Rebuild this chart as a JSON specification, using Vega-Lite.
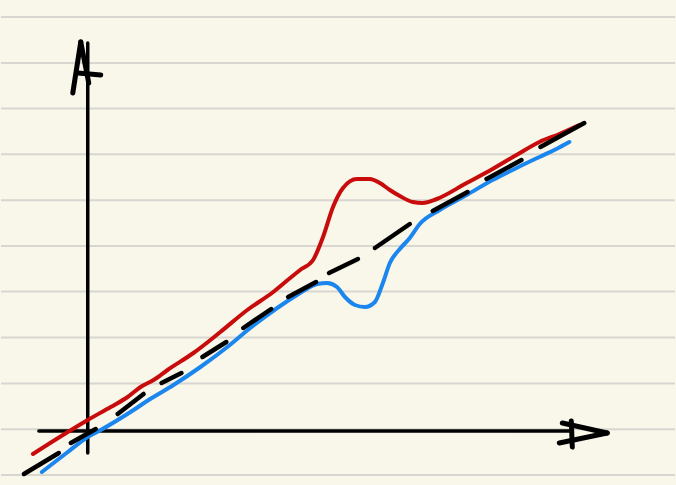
{
  "$schema": "https://vega.github.io/schema/vega-lite/v6.json",
  "width": 676,
  "height": 485,
  "autosize": {"type": "fit", "contains": "padding"},
  "padding": 0,
  "background": "#f9f6ea",
  "config": {"view": {"stroke": null}},
  "datasets": {
    "paper": [{"y": 414}, {"y": 368}, {"y": 322.5}, {"y": 276.7}, {"y": 230.7}, {"y": 185}, {"y": 139.5}, {"y": 93.5}, {"y": 47.5}, {"y": 1.7}, {"y": -44}],
    "curves": [
      {"s": "red", "x": -55, "y": -23}, {"s": "red", "x": -20, "y": -1}, {"s": "red", "x": 0, "y": 11}, {"s": "red", "x": 23, "y": 24},
      {"s": "red", "x": 40, "y": 34}, {"s": "red", "x": 53, "y": 44}, {"s": "red", "x": 66, "y": 51}, {"s": "red", "x": 80, "y": 61},
      {"s": "red", "x": 106, "y": 78}, {"s": "red", "x": 133, "y": 99}, {"s": "red", "x": 160, "y": 121}, {"s": "red", "x": 186, "y": 139},
      {"s": "red", "x": 203, "y": 153}, {"s": "red", "x": 213, "y": 161}, {"s": "red", "x": 226, "y": 171}, {"s": "red", "x": 236, "y": 194},
      {"s": "red", "x": 246, "y": 224}, {"s": "red", "x": 256, "y": 243}, {"s": "red", "x": 270, "y": 252}, {"s": "red", "x": 283, "y": 252},
      {"s": "red", "x": 293, "y": 248}, {"s": "red", "x": 303, "y": 241}, {"s": "red", "x": 313, "y": 235}, {"s": "red", "x": 326, "y": 229},
      {"s": "red", "x": 336, "y": 228}, {"s": "red", "x": 350, "y": 232}, {"s": "red", "x": 380, "y": 248}, {"s": "red", "x": 406, "y": 262},
      {"s": "red", "x": 430, "y": 276}, {"s": "red", "x": 453, "y": 289}, {"s": "red", "x": 473, "y": 297}, {"s": "red", "x": 493, "y": 306},
      {"s": "blue", "x": -46, "y": -41}, {"s": "blue", "x": -20, "y": -21}, {"s": "blue", "x": 0, "y": -6}, {"s": "blue", "x": 13, "y": 1},
      {"s": "blue", "x": 46, "y": 21}, {"s": "blue", "x": 61, "y": 31}, {"s": "blue", "x": 86, "y": 46}, {"s": "blue", "x": 113, "y": 64},
      {"s": "blue", "x": 140, "y": 84}, {"s": "blue", "x": 163, "y": 103}, {"s": "blue", "x": 190, "y": 123}, {"s": "blue", "x": 213, "y": 138},
      {"s": "blue", "x": 223, "y": 144}, {"s": "blue", "x": 230, "y": 147}, {"s": "blue", "x": 240, "y": 148}, {"s": "blue", "x": 250, "y": 144},
      {"s": "blue", "x": 258, "y": 134}, {"s": "blue", "x": 268, "y": 126}, {"s": "blue", "x": 278, "y": 124}, {"s": "blue", "x": 288, "y": 129},
      {"s": "blue", "x": 296, "y": 148}, {"s": "blue", "x": 303, "y": 168}, {"s": "blue", "x": 313, "y": 182}, {"s": "blue", "x": 323, "y": 193},
      {"s": "blue", "x": 333, "y": 207}, {"s": "blue", "x": 353, "y": 221}, {"s": "blue", "x": 380, "y": 236}, {"s": "blue", "x": 406, "y": 251},
      {"s": "blue", "x": 430, "y": 263}, {"s": "blue", "x": 453, "y": 274}, {"s": "blue", "x": 470, "y": 282}, {"s": "blue", "x": 483, "y": 289}
    ],
    "dashes": [
      {"x": -64, "y": -43, "x2": -29, "y2": -22}, {"x": -17, "y": -12, "x2": 8, "y2": 2}, {"x": 30, "y": 17, "x2": 56, "y2": 37},
      {"x": 74, "y": 48, "x2": 94, "y2": 58}, {"x": 115, "y": 74, "x2": 139, "y2": 89}, {"x": 156, "y": 103, "x2": 184, "y2": 122},
      {"x": 201, "y": 134, "x2": 229, "y2": 149}, {"x": 242, "y": 158, "x2": 271, "y2": 172}, {"x": 288, "y": 183, "x2": 323, "y2": 207},
      {"x": 346, "y": 220, "x2": 381, "y2": 239}, {"x": 400, "y": 252, "x2": 435, "y2": 271}, {"x": 454, "y": 284, "x2": 498, "y2": 308}
    ],
    "axes": [
      {"x": 0, "y": -22, "x2": 0, "y2": 388, "w": 3.5},
      {"x": -49, "y": 0, "x2": 485, "y2": 0, "w": 3.5},
      {"x": -15, "y": 338, "x2": -7, "y2": 389, "w": 5},
      {"x": -7, "y": 389, "x2": 1, "y2": 348, "w": 5},
      {"x": -10, "y": 358, "x2": 13, "y2": 356, "w": 5},
      {"x": 476, "y": 8, "x2": 521, "y2": -2, "w": 5},
      {"x": 521, "y": -2, "x2": 473, "y2": -12, "w": 5},
      {"x": 485, "y": 10, "x2": 486, "y2": -16, "w": 5}
    ]
  },
  "layer": [
    {
      "data": {"name": "paper"},
      "mark": {"type": "rule", "color": "#d7d6d0", "strokeWidth": 2},
      "encoding": {
        "y": {"field": "y", "type": "quantitative", "scale": {"domain": [-54, 431], "nice": false, "zero": false}, "axis": null}
      }
    },
    {
      "data": {"name": "axes"},
      "mark": {"type": "rule", "color": "#000000", "strokeCap": "round"},
      "encoding": {
        "x": {"field": "x", "type": "quantitative", "scale": {"domain": [-87, 589], "nice": false, "zero": false}, "axis": null},
        "y": {"field": "y", "type": "quantitative", "axis": null},
        "x2": {"field": "x2"},
        "y2": {"field": "y2"},
        "strokeWidth": {"field": "w", "type": "quantitative", "scale": null}
      }
    },
    {
      "data": {"name": "curves"},
      "mark": {"type": "line", "interpolate": "monotone", "strokeWidth": 4, "strokeCap": "round"},
      "encoding": {
        "x": {"field": "x", "type": "quantitative", "axis": null},
        "y": {"field": "y", "type": "quantitative", "axis": null},
        "color": {"field": "s", "type": "nominal", "scale": {"domain": ["red", "blue"], "range": ["#c80c0c", "#1a86ee"]}, "legend": null}
      }
    },
    {
      "data": {"name": "dashes"},
      "mark": {"type": "rule", "color": "#000000", "strokeWidth": 4.5, "strokeCap": "round"},
      "encoding": {
        "x": {"field": "x", "type": "quantitative", "axis": null},
        "y": {"field": "y", "type": "quantitative", "axis": null},
        "x2": {"field": "x2"},
        "y2": {"field": "y2"}
      }
    }
  ]
}
